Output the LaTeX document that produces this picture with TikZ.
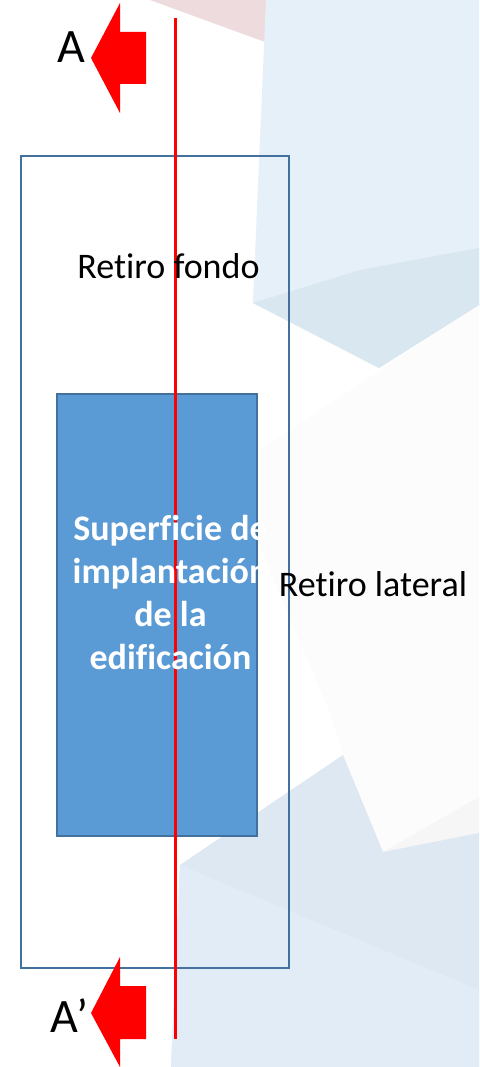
\documentclass[tikz,border=0pt]{standalone}
\usepackage{fontspec}
\setmainfont{Carlito}[Ligatures=CommonOff]
\definecolor{edgeblue}{HTML}{41719C}
\definecolor{fillblue}{HTML}{5B9BD5}
\definecolor{bgpink}{HTML}{EEDBDE}
\definecolor{bgsky}{HTML}{E6F0F8}
\definecolor{bgband}{HTML}{D9E7F1}
\definecolor{bggrey}{HTML}{FCFCFC}
\definecolor{bgshade}{HTML}{F6F6F6}
\definecolor{bgslate}{HTML}{DEE8F2}
\definecolor{bgpale}{HTML}{E2ECF6}
\tikzset{
  retiro/.style={font=\fontsize{36}{36}\selectfont,text=black,inner sep=0pt},
  sectionletter/.style={font=\fontsize{48}{48}\selectfont,text=black,inner sep=0pt},
  building/.style={font=\fontsize{36}{43}\selectfont\bfseries,text=white,align=center,inner sep=0pt},
  redarrow/.style={fill=red,draw=none},
  sectionline/.style={draw=red,line width=3pt},
  boxedge/.style={draw=edgeblue,line width=2.6pt,inner sep=0pt,outer sep=0pt}
}
\begin{document}
\begin{tikzpicture}[x=1pt,y=-1pt]
\useasboundingbox (0,0) rectangle (479,1067);
% background
\fill[white] (0,0) rectangle (479,1067);
\fill[bgpink] (150,0) -- (265,42) -- (266,0) -- cycle;
\fill[bggrey] (260,450) -- (377,373) -- (479,305) -- (479,833) -- (383,852) -- (343,755) -- (333,720) -- (260,547) -- cycle;
\fill[bgshade] (383,852) -- (479,797) -- (479,833) -- cycle;
\fill[bgsky] (266,0) -- (253,303) -- (379,368) -- (479,305) -- (479,0) -- cycle;
\fill[bgband] (253,303) -- (360,270) -- (479,248) -- (479,305) -- (379,368) -- cycle;
\fill[bgslate] (180,865) -- (343,755) -- (383,852) -- (479,833) -- (479,1067) -- (171,1067) -- cycle;
\fill[bgpale] (180,865) -- (479,990) -- (479,1067) -- (171,1067) -- cycle;
% boxes
\node[boxedge,minimum width=268pt,minimum height=812pt,anchor=north west] (lot) at (21,156) {};
\node[boxedge,fill=fillblue,minimum width=200pt,minimum height=442pt,anchor=north west] (house) at (57,394) {};
% section line
\coordinate (top) at (175,18);
\coordinate (bottom) at (175,1039);
\draw[sectionline] (top) -- (bottom);
% arrows
\fill[redarrow] (91,58) -- (120,3) -- (120,32) -- (146,32) -- (146,84) -- (120,84) -- (120,113) -- cycle;
\fill[redarrow] (91,1013) -- (120,957) -- (120,986) -- (146,986) -- (146,1039) -- (120,1039) -- (120,1067) -- cycle;
% labels
\node[sectionletter,anchor=base] (a) at (71,63) {A};
\node[sectionletter,anchor=base] (ap) at (69.5,1032) {A’};
\node[retiro,anchor=base] (fondo) at (168.5,278) {Retiro fondo};
\node[retiro,anchor=base] (lateral) at (373,596) {Retiro lateral};
\node[building,anchor=center] (label) at (170.5,592) {Superficie de\\implantación\\de la\\edificación};
\end{tikzpicture}
\end{document}
